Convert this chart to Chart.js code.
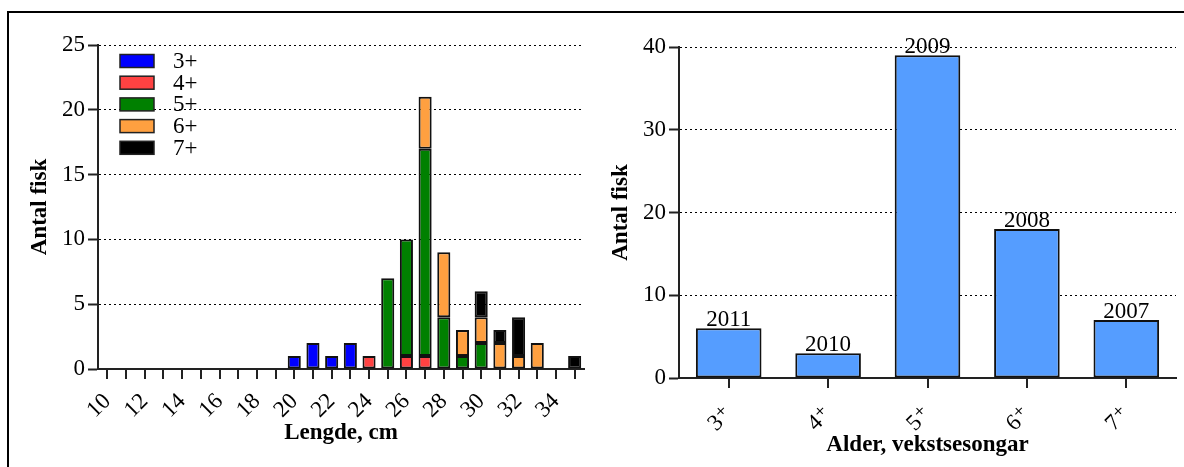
<!DOCTYPE html>
<html lang="no">
  <head>
    <meta charset="UTF-8" />
    <title>Antal fisk</title>
    <style>
      * {
        margin: 0;
        padding: 0;
        box-sizing: border-box;
      }
      body {
        width: 1184px;
        height: 467px;
        background: #fff;
        position: relative;
        overflow: hidden;
      }
      .frame {
        position: absolute;
        left: 7px;
        top: 11px;
        width: 1190px;
        height: 470px;
        border-left: 2px solid #000;
        border-top: 2px solid #000;
      }
      #chartLengde {
        position: absolute;
        left: 0;
        top: 0;
      }
      #chartAlder {
        position: absolute;
        left: 600px;
        top: 0;
      }
    </style>
  </head>
  <body>
    <div class="frame"></div>
    <canvas id="chartLengde" width="600" height="467"></canvas>
    <canvas id="chartAlder" width="584" height="467"></canvas>

    <script src="https://cdn.jsdelivr.net/npm/chart.js"></script>
    <script>
      // lengdefordeling (cm) per aldersgruppe
      const lengder = [10, 11, 12, 13, 14, 15, 16, 17, 18, 19, 20, 21, 22, 23, 24, 25, 26, 27, 28, 29, 30, 31, 32, 33, 34, 35];
      const alder3 = [0, 0, 0, 0, 0, 0, 0, 0, 0, 0, 1, 2, 1, 2, 0, 0, 0, 0, 0, 0, 0, 0, 0, 0, 0, 0];
      const alder4 = [0, 0, 0, 0, 0, 0, 0, 0, 0, 0, 0, 0, 0, 0, 1, 0, 1, 1, 0, 0, 0, 0, 0, 0, 0, 0];
      const alder5 = [0, 0, 0, 0, 0, 0, 0, 0, 0, 0, 0, 0, 0, 0, 0, 7, 9, 16, 4, 1, 2, 0, 0, 0, 0, 0];
      const alder6 = [0, 0, 0, 0, 0, 0, 0, 0, 0, 0, 0, 0, 0, 0, 0, 0, 0, 4, 5, 2, 2, 2, 1, 2, 0, 0];
      const alder7 = [0, 0, 0, 0, 0, 0, 0, 0, 0, 0, 0, 0, 0, 0, 0, 0, 0, 0, 0, 0, 2, 1, 3, 0, 0, 1];

      // aldersfordeling
      const aldersgrupper = ["3⁺", "4⁺", "5⁺", "6⁺", "7⁺"];
      const antalPerAlder = [6, 3, 39, 18, 7];
      const aarsklasser = ["2011", "2010", "2009", "2008", "2007"];

      const serif = "'Liberation Serif', 'DejaVu Serif', serif";
      Chart.defaults.font.family = serif;
      Chart.defaults.font.size = 23;
      Chart.defaults.color = "#000";

      function gridColor(c) {
        return c.tick && c.tick.value === 0 ? "rgba(0,0,0,0)" : "#000";
      }

      // no border on empty segments
      function kantBredde(c) {
        return c.raw ? 2 : 0;
      }

      // legend drawn inside the plot area
      const innerLegend = {
        id: "innerLegend",
        afterDraw(chart) {
          const ctx = chart.ctx;
          const a = chart.chartArea;
          ctx.save();
          ctx.font = "23px " + serif;
          ctx.textBaseline = "middle";
          chart.data.datasets.forEach(function (ds, i) {
            const y = a.top + 16 + i * 21.7;
            ctx.fillStyle = ds.backgroundColor;
            ctx.fillRect(a.left + 22, y - 6.5, 34, 13);
            ctx.strokeStyle = "#222";
            ctx.lineWidth = 1.5;
            ctx.strokeRect(a.left + 22, y - 6.5, 34, 13);
            ctx.fillStyle = "#000";
            ctx.fillText(ds.label, a.left + 75, y + 1);
          });
          ctx.restore();
        },
      };

      // year labels above the bars
      const barLabels = {
        id: "barLabels",
        afterDatasetsDraw(chart) {
          const ctx = chart.ctx;
          const meta = chart.getDatasetMeta(0);
          ctx.save();
          ctx.font = "23px " + serif;
          ctx.textAlign = "center";
          ctx.textBaseline = "bottom";
          ctx.fillStyle = "#000";
          meta.data.forEach(function (bar, i) {
            ctx.fillText(aarsklasser[i], bar.x, bar.y + 3);
          });
          ctx.restore();
        },
      };

      function lagSett(navn, data, farge) {
        return {
          label: navn,
          data: data,
          backgroundColor: farge,
          borderColor: "#111",
          borderWidth: kantBredde,
          borderSkipped: false,
          barPercentage: 0.7,
          categoryPercentage: 1,
        };
      }

      new Chart(document.getElementById("chartLengde"), {
        type: "bar",
        data: {
          labels: lengder,
          datasets: [
            lagSett("3+", alder3, "#0000ff"),
            lagSett("4+", alder4, "#ff4242"),
            lagSett("5+", alder5, "#008000"),
            lagSett("6+", alder6, "#ffa040"),
            lagSett("7+", alder7, "#000000"),
          ],
        },
        options: {
          responsive: false,
          animation: false,
          layout: { padding: { left: 16, right: 16, top: 45, bottom: 0 } },
          plugins: { legend: { display: false }, tooltip: { enabled: false } },
          scales: {
            x: {
              stacked: true,
              afterFit(s) {
                s.height = 98;
                s.paddingLeft = 0;
                s.paddingRight = 0;
              },
              border: { color: "#222", width: 2 },
              grid: {
                offset: false,
                drawOnChartArea: false,
                tickLength: 10,
                tickColor: "#222",
                lineWidth: 2,
              },
              ticks: {
                autoSkip: false,
                minRotation: 45,
                maxRotation: 45,
                padding: 9,
                callback: function (v, i) {
                  return i % 2 === 0 ? lengder[i] : "";
                },
              },
              title: {
                display: true,
                text: "Lengde, cm",
                font: { weight: "bold", size: 23 },
                padding: { top: 0, bottom: 20 },
              },
            },
            y: {
              stacked: true,
              min: 0,
              max: 25,
              afterFit(s) {
                s.width = 82;
              },
              border: { color: "#222", width: 2, dash: [2, 3] },
              grid: {
                color: gridColor,
                lineWidth: 1,
                tickLength: 10,
                tickColor: "#222",
                tickWidth: 2,
              },
              ticks: { stepSize: 5, padding: 3 },
              title: {
                display: true,
                text: "Antal fisk",
                font: { weight: "bold", size: 23 },
                padding: { top: 10, bottom: 0 },
              },
            },
          },
        },
        plugins: [innerLegend],
      });

      new Chart(document.getElementById("chartAlder"), {
        type: "bar",
        data: {
          labels: aldersgrupper,
          datasets: [
            {
              label: "Antal fisk",
              data: antalPerAlder,
              backgroundColor: "#559dff",
              borderColor: "#111",
              borderWidth: 2,
              borderSkipped: false,
              barPercentage: 0.66,
              categoryPercentage: 1,
            },
          ],
        },
        options: {
          responsive: false,
          animation: false,
          layout: { padding: { left: 0, right: 8, top: 47, bottom: 0 } },
          plugins: { legend: { display: false }, tooltip: { enabled: false } },
          scales: {
            x: {
              afterFit(s) {
                s.height = 89;
                s.paddingLeft = 0;
                s.paddingRight = 0;
              },
              border: { color: "#222", width: 2 },
              grid: {
                offset: false,
                drawOnChartArea: false,
                tickLength: 10,
                tickColor: "#222",
                lineWidth: 2,
              },
              ticks: { autoSkip: false, minRotation: 45, maxRotation: 45, padding: 13 },
              title: {
                display: true,
                text: "Alder, vekstsesongar",
                font: { weight: "bold", size: 23 },
                padding: { top: 0, bottom: 8 },
              },
            },
            y: {
              min: 0,
              max: 40,
              afterFit(s) {
                s.width = 79;
              },
              border: { color: "#222", width: 2, dash: [2, 3] },
              grid: {
                color: gridColor,
                lineWidth: 1,
                tickLength: 10,
                tickColor: "#222",
                tickWidth: 2,
              },
              ticks: { stepSize: 10, padding: 3 },
              title: {
                display: true,
                text: "Antal fisk",
                font: { weight: "bold", size: 23 },
                padding: { top: 7, bottom: 0 },
              },
            },
          },
        },
        plugins: [barLabels],
      });
    </script>
  </body>
</html>
